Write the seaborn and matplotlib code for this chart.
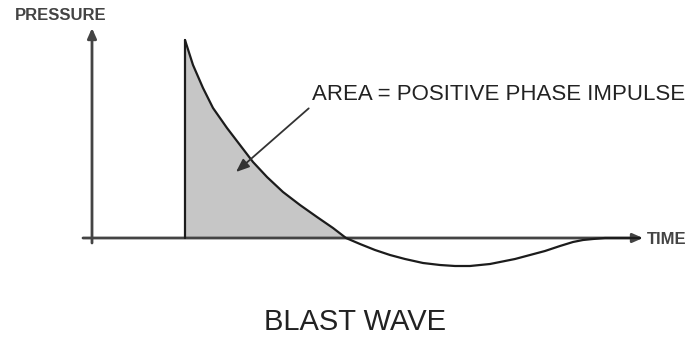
import matplotlib
matplotlib.use("Agg")
import matplotlib.pyplot as plt
import pandas as pd
import seaborn as sns

# Pressure-time history of a blast wave (arbitrary units):
# sharp rise to peak overpressure, decay, negative phase, return to ambient.
time = [0, 8, 18, 28, 42, 55, 68, 82, 98, 115, 132, 148, 161,
        175, 190, 205, 220, 238, 255, 270, 285, 305, 315, 330, 345,
        360, 375, 388, 398, 408, 420, 455]
pressure = [198, 173, 150, 130, 110, 93, 76, 61, 46, 33, 21, 10, 0,
            -6, -12, -17, -21, -25, -27, -28, -28, -26, -24, -21, -17,
            -13, -8, -4, -2, -1, 0, 0]

title = "BLAST WAVE"
y_label = "PRESSURE"
x_label = "TIME"
area_label = "AREA = POSITIVE PHASE IMPULSE"

df = pd.DataFrame({"time": time, "pressure": pressure})

sns.set_theme(style="white")
plt.rcParams["font.family"] = ["Liberation Sans", "DejaVu Sans"]

fig = plt.figure(figsize=(6.94, 3.38), dpi=100)
ax = fig.add_axes([0, 0, 1, 1])
ax.set_xlim(-185, 509)
ax.set_ylim(-100, 238)

axis_color = "#444444"
curve_color = "#1c1c1c"

# positive phase shaded
pos = df[(df["pressure"] >= 0) & (df["time"] <= 161)]
ax.fill_between(pos["time"], 0, pos["pressure"], color="#c6c6c6", lw=0, zorder=1)

# coordinate axes with arrowheads
head = "-|>,head_length=0.5,head_width=0.22"
ax.annotate("", xy=(-93, 210), xytext=(-93, -5),
            arrowprops=dict(arrowstyle=head, color=axis_color, lw=2.0,
                            shrinkA=0, shrinkB=0), zorder=2)
ax.annotate("", xy=(458, 0), xytext=(-102, 0),
            arrowprops=dict(arrowstyle=head, color=axis_color, lw=2.0,
                            shrinkA=0, shrinkB=0), zorder=2)

# pressure curve with the instantaneous rise at arrival
ax.plot([0, 0], [0, pressure[0]], color=curve_color, lw=1.6, zorder=3)
sns.lineplot(data=df, x="time", y="pressure", ax=ax, color=curve_color,
             lw=1.6, zorder=3, legend=False, sort=False,
             solid_joinstyle="round", solid_capstyle="round")
ax.set_axis_off()

ax.text(-170, 223, y_label, fontsize=12, fontweight="bold", color="#444444",
        ha="left", va="center")
ax.text(462, -2, x_label, fontsize=12, fontweight="bold", color="#444444",
        ha="left", va="center")

ax.annotate(area_label, xy=(51, 66), xytext=(127, 143), fontsize=16,
            color="#222222", ha="left", va="center",
            arrowprops=dict(arrowstyle="-|>,head_length=0.5,head_width=0.2",
                            color="#333333", lw=1.3, shrinkA=0, shrinkB=0,
                            relpos=(0.0, 0.0)))

ax.text(170, -84, title, fontsize=21, color="#222222", ha="center", va="center")

fig.savefig("out.png", dpi=100)
